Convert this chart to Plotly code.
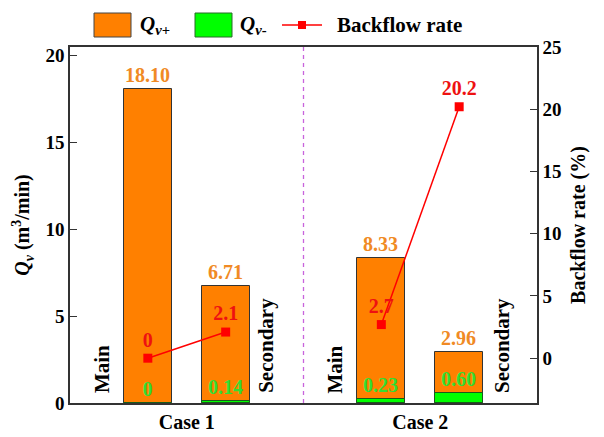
import plotly.graph_objects as go

# ---- data ----
cases = ["Case 1", "Case 2"]
positions = ["Main", "Secondary", "Main", "Secondary"]
bar_x = [1, 2, 4, 5]
qv_plus = [18.10, 6.71, 8.33, 2.96]
qv_minus = [0.0, 0.14, 0.23, 0.60]
qv_plus_labels = ["18.10", "6.71", "8.33", "2.96"]
qv_minus_labels = ["0", "0.14", "0.23", "0.60"]
backflow_case1 = [0, 2.1]
backflow_case2 = [2.7, 20.2]
backflow_labels1 = ["0", "2.1"]
backflow_labels2 = ["2.7", "20.2"]
case_tick_x = [1.5, 4.5]
left_ticks = [0, 5, 10, 15, 20]
right_ticks = [0, 5, 10, 15, 20, 25]
legend_names = ["<i>Q</i><sub><i>v</i>+</sub>", "<i>Q</i><sub><i>v</i>-</sub>", "Backflow rate"]

FONT = "Liberation Serif, Times New Roman, serif"
ORANGE = "#FF8000"
GREEN = "#00FF00"
RED = "#FF0000"
AX = "#333333"

L, R, T, B = 70, 67, 47, 34
W, H = 604, 437
PW, PH = W - L - R, H - T - B


def px(x):
    return (x - L) / PW


def py(y):
    return (H - B - y) / PH


fig = go.Figure()
fig.add_trace(go.Bar(
    x=bar_x, y=qv_plus, width=0.62, name=legend_names[0], showlegend=False,
    marker=dict(color=ORANGE, line=dict(color="#333333", width=1)),
    text=qv_plus_labels, textposition="outside", cliponaxis=False,
    textfont=dict(family=FONT, size=20, color="#F08A24", weight="bold"),
))
fig.add_trace(go.Bar(
    x=bar_x, y=qv_minus, width=0.62, name=legend_names[1], showlegend=False,
    marker=dict(color=GREEN, line=dict(color="#1a5a1a", width=1)),
    text=qv_minus_labels, textposition="outside", cliponaxis=False,
    textfont=dict(family=FONT, size=20, color="#33DD33", weight="bold"),
))
for xs, ys, labs in [(bar_x[:2], backflow_case1, backflow_labels1),
                     (bar_x[2:], backflow_case2, backflow_labels2)]:
    fig.add_trace(go.Scatter(
        x=xs, y=ys, yaxis="y2", mode="lines+markers+text",
        name=legend_names[2], showlegend=False, line=dict(color=RED, width=1.5),
        marker=dict(symbol="square", size=9, color=RED),
        text=labs, textposition="top center", cliponaxis=False,
        textfont=dict(family=FONT, size=20, color="#EE1111", weight="bold"),
    ))

# Main / Secondary labels
label_x = [0.41, 2.52, 3.41, 5.54]
for lx, lab in zip(label_x, positions):
    fig.add_annotation(x=lx, y=0.45, xref="x", yref="y", text=lab, textangle=-90,
                       showarrow=False, yanchor="bottom", xanchor="center",
                       font=dict(family=FONT, size=21, color="black", weight="bold"))

fig.add_shape(type="line", x0=3, x1=3, y0=0, y1=1, xref="x", yref="paper",
              line=dict(color="#C864DC", width=1.3, dash="4px,4px"))

# legend (drawn manually to match swatch sizes)
fig.add_shape(type="rect", xref="paper", yref="paper", x0=px(94), x1=px(131), y0=py(37), y1=py(13),
              fillcolor=ORANGE, line=dict(color="#444444", width=1))
fig.add_shape(type="rect", xref="paper", yref="paper", x0=px(195), x1=px(232), y0=py(37), y1=py(13),
              fillcolor=GREEN, line=dict(color="#2a6a2a", width=1))
fig.add_shape(type="line", xref="paper", yref="paper", x0=px(282), x1=px(322), y0=py(25), y1=py(25),
              line=dict(color=RED, width=1.5))
fig.add_shape(type="rect", xref="paper", yref="paper", x0=px(298), x1=px(306), y0=py(29), y1=py(21),
              fillcolor=RED, line=dict(color=RED, width=0))
for tx, txt in zip([138, 238, 335], legend_names):
    fig.add_annotation(xref="paper", yref="paper", x=px(tx), y=py(25), text=txt,
                       showarrow=False, xanchor="left", yanchor="middle",
                       font=dict(family=FONT, size=21, color="black", weight="bold"))

fig.update_layout(
    width=W, height=H,
    margin=dict(l=L, r=R, t=T, b=B, autoexpand=False),
    paper_bgcolor="white", plot_bgcolor="white",
    barmode="overlay", bargap=0,
    font=dict(family=FONT, size=17, color="black"),
    showlegend=False,
    xaxis=dict(range=[0, 6], tickvals=case_tick_x, ticktext=cases, ticks="",
               showline=True, linecolor=AX, linewidth=1.5, mirror=True,
               showgrid=False, zeroline=False, automargin=False,
               tickfont=dict(family=FONT, size=20, color="black", weight="bold")),
    yaxis=dict(range=[0, 20.5], tickvals=left_ticks, ticks="inside", ticklen=7,
               tickcolor=AX, showline=True, linecolor=AX, linewidth=1.5,
               showgrid=False, zeroline=False, automargin=False,
               tickfont=dict(family=FONT, size=19, color="black", weight="bold"),
               title=dict(text="<i>Q<sub>v</sub></i> (m<sup>3</sup>/min)", standoff=10,
                          font=dict(family=FONT, size=20, color="black", weight="bold"))),
    yaxis2=dict(range=[-3.6, 25], tickvals=right_ticks, ticks="inside", ticklen=7,
                tickcolor=AX, overlaying="y", side="right", showline=True,
                linecolor=AX, linewidth=1.5, showgrid=False, zeroline=False,
                automargin=False,
                tickfont=dict(family=FONT, size=19, color="black", weight="bold"),
                title=dict(text="Backflow rate (%)", standoff=10,
                           font=dict(family=FONT, size=20, color="black", weight="bold"))),
)

fig.write_html("out.html", config={"displayModeBar": False},
               post_script="document.body.style.margin='0';")
